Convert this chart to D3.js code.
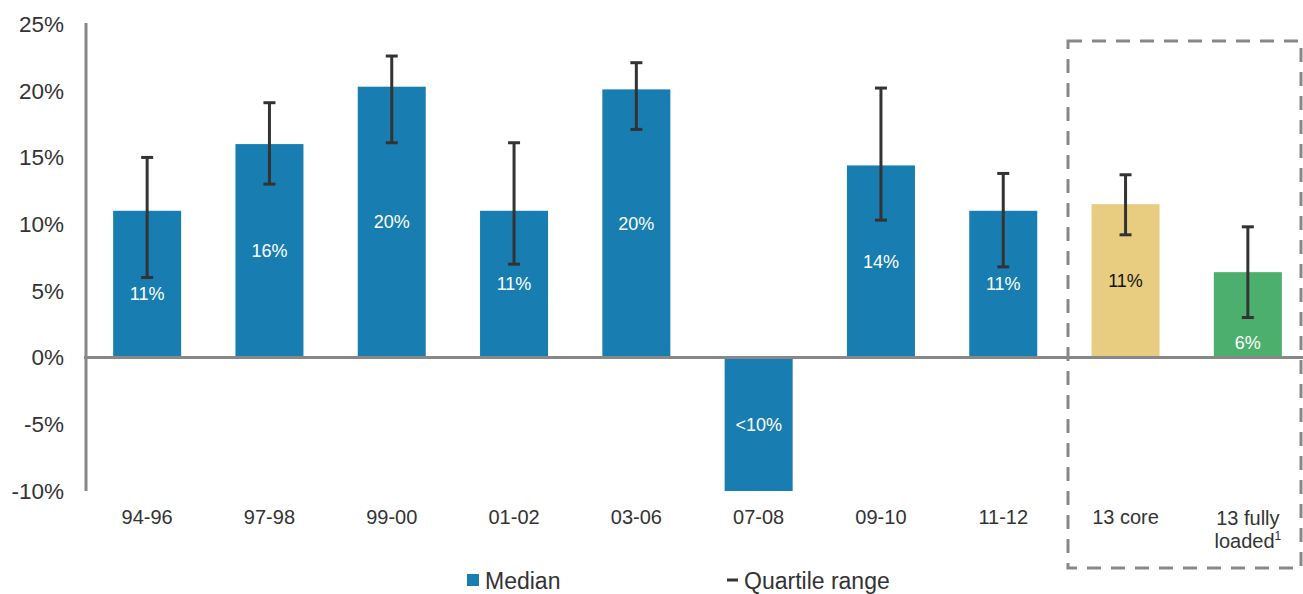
<!DOCTYPE html>
<html><head><meta charset="utf-8">
<script src="https://cdn.jsdelivr.net/npm/d3@7"></script>
<style>body{margin:0;background:#fff}svg{display:block;font-family:"Liberation Sans",Arial,sans-serif}</style>
</head><body><svg id="c" width="1303" height="594"></svg>
<script>
const categories = ["94-96","97-98","99-00","01-02","03-06","07-08","09-10","11-12","13 core","13 fully loaded"];
const median = [11, 16, 20.3, 11, 20.1, -10, 14.4, 11, 11.5, 6.4];
const q1 = [6, 13, 16.1, 7, 17.1, null, 10.3, 6.8, 9.2, 3];
const q3 = [15, 19.1, 22.6, 16.1, 22.1, null, 20.2, 13.8, 13.7, 9.8];
const barLabels = ["11%","16%","20%","11%","20%","<10%","14%","11%","11%","6%"];
const groups = ["hist","hist","hist","hist","hist","hist","hist","hist","core","full"];
const yTicks = [-10,-5,0,5,10,15,20,25];
const colors = {hist:"#187db0", core:"#e8cd80", full:"#4caf6e"};

const svg = d3.select("#c");
const y = d3.scaleLinear().domain([-10,25]).range([491,24]);
const x = d3.scaleBand().domain(categories).range([86,1309]).paddingInner(0.444).paddingOuter(0.222);

// y tick labels
svg.append("g").selectAll("text").data(yTicks).join("text")
  .attr("x",64).attr("y",d=>y(d)).attr("dy","0.35em").attr("text-anchor","end")
  .attr("font-size",22.5).attr("fill","#333").text(d=>d+"%");

// bars
svg.append("g").selectAll("rect").data(categories).join("rect")
  .attr("x",d=>x(d)).attr("width",x.bandwidth())
  .attr("y",(d,i)=>y(Math.max(0,median[i])))
  .attr("height",(d,i)=>Math.abs(y(median[i])-y(0)))
  .attr("fill",(d,i)=>colors[groups[i]]);

// axes lines
svg.append("line").attr("x1",86).attr("x2",86).attr("y1",y(25)-1).attr("y2",y(-10)).attr("stroke","#888").attr("stroke-width",3);
svg.append("line").attr("x1",84).attr("x2",1303).attr("y1",y(0)).attr("y2",y(0)).attr("stroke","#888").attr("stroke-width",3);

// error bars
const eb = svg.append("g").attr("stroke","#333").attr("stroke-width",3);
categories.forEach((c,i)=>{
  if(q1[i]==null) return;
  const cx = x(c)+x.bandwidth()/2;
  eb.append("line").attr("x1",cx).attr("x2",cx).attr("y1",y(q3[i])).attr("y2",y(q1[i]));
  eb.append("line").attr("x1",cx-6).attr("x2",cx+6).attr("y1",y(q3[i])).attr("y2",y(q3[i]));
  eb.append("line").attr("x1",cx-6).attr("x2",cx+6).attr("y1",y(q1[i])).attr("y2",y(q1[i]));
});

// bar labels
svg.append("g").selectAll("text").data(categories).join("text")
  .attr("x",d=>x(d)+x.bandwidth()/2)
  .attr("y",(d,i)=>{
    const mid=(y(median[i])+y(0))/2;
    if(q1[i]==null) return mid;
    const low=y(q1[i]);
    return low>mid-8 ? Math.max(mid, low+16+(groups[i]==="full"?9:0)) : mid;
  })
  .attr("dy","0.35em").attr("text-anchor","middle").attr("font-size",18)
  .attr("fill",(d,i)=>groups[i]==="core"?"#111":"#fff").text((d,i)=>barLabels[i]);

// category labels
const cl = svg.append("g").attr("font-size",20).attr("fill","#333").attr("text-anchor","middle");
categories.forEach((c,i)=>{
  const cx = x(c)+x.bandwidth()/2;
  if(c==="13 fully loaded"){
    cl.append("text").attr("x",cx).attr("y",525).text("13 fully");
    const t=cl.append("text").attr("x",cx).attr("y",548);
    t.append("tspan").text("loaded");
    t.append("tspan").attr("font-size",12).attr("dy",-8).text("1");
  } else {
    cl.append("text").attr("x",cx).attr("y",524).text(c);
  }
});

// dashed box
svg.append("rect").attr("x",1068).attr("y",41).attr("width",233).attr("height",527)
  .attr("fill","none").attr("stroke","#888").attr("stroke-width",3).attr("stroke-dasharray","14,10");

// legend
const lg = svg.append("g");
lg.append("rect").attr("x",467).attr("y",574).attr("width",12).attr("height",12).attr("fill",colors.hist);
lg.append("text").attr("x",485).attr("y",589).attr("font-size",23).attr("fill","#333").text("Median");
lg.append("line").attr("x1",727).attr("x2",738).attr("y1",580).attr("y2",580).attr("stroke","#333").attr("stroke-width",3);
lg.append("text").attr("x",744).attr("y",589).attr("font-size",23).attr("fill","#333").text("Quartile range");
</script></body></html>
